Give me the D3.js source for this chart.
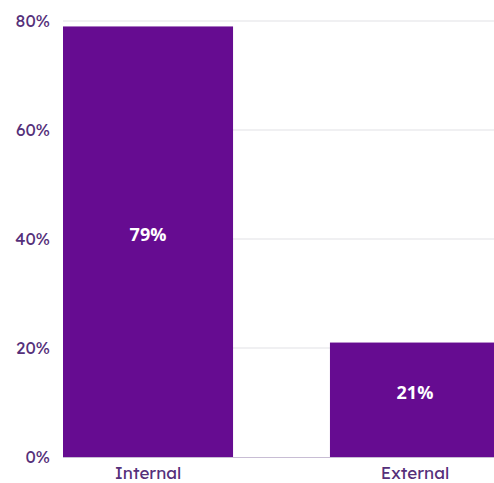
<!DOCTYPE html>
<html>
<head>
<meta charset="utf-8">
<script src="https://cdn.jsdelivr.net/npm/d3@7"></script>
<style>
  body { margin: 0; background: #fff; }
  text { font-family: "Lexend", "Open Sans", sans-serif; }
</style>
</head>
<body>
<div id="chart"></div>
<script>
// chart data
var categories = ["Internal", "External"];
var values = [79, 21];
var yTicks = [0, 20, 40, 60, 80];

var W = 494, H = 483;
var margin = {top: 21, right: 0, bottom: 26, left: 63};

var svg = d3.select("#chart")
  .append("svg")
    .attr("width", W)
    .attr("height", H);

var x = d3.scaleBand()
  .domain(categories)
  .range([margin.left, 500])
  .paddingInner(0.363)
  .paddingOuter(0);

var y = d3.scaleLinear()
  .domain([0, 80])
  .range([H - margin.bottom, margin.top]);

// gridlines
svg.append("g")
  .selectAll("line")
  .data(yTicks.slice(1))
  .enter()
  .append("line")
    .attr("x1", margin.left)
    .attr("x2", W)
    .attr("y1", d => y(d))
    .attr("y2", d => y(d))
    .attr("stroke", "#e1e1e5")
    .attr("stroke-width", 1);

// y tick labels
svg.append("g")
  .selectAll("text")
  .data(yTicks)
  .enter()
  .append("text")
    .attr("x", 50)
    .attr("y", d => y(d))
    .attr("dy", "0.36em")
    .attr("text-anchor", "end")
    .attr("fill", "#55307a")
    .style("font-size", "17px")
    .text(d => d + "%");

// bars
svg.append("g")
  .selectAll("rect")
  .data(values)
  .enter()
  .append("rect")
    .attr("x", (d, i) => x(categories[i]))
    .attr("y", d => y(d))
    .attr("width", x.bandwidth())
    .attr("height", d => y(0) - y(d))
    .attr("fill", "#660c91");

// baseline
svg.append("line")
  .attr("x1", margin.left)
  .attr("x2", W)
  .attr("y1", y(0) + 0.5)
  .attr("y2", y(0) + 0.5)
  .attr("stroke", "#c8bdd4")
  .attr("stroke-width", 1);

// value labels
svg.append("g")
  .selectAll("text")
  .data(values)
  .enter()
  .append("text")
    .attr("x", (d, i) => x(categories[i]) + x.bandwidth() / 2)
    .attr("y", d => (y(d) + y(0)) / 2)
    .attr("dy", "-0.05em")
    .attr("text-anchor", "middle")
    .attr("fill", "#ffffff")
    .style("font-family", "'Open Sans', sans-serif")
    .style("font-size", "18px")
    .style("font-weight", "bold")
    .text(d => d + "%");

// x labels
svg.append("g")
  .selectAll("text")
  .data(categories)
  .enter()
  .append("text")
    .attr("x", d => x(d) + x.bandwidth() / 2)
    .attr("y", 479)
    .attr("text-anchor", "middle")
    .attr("fill", "#55307a")
    .style("font-size", "17px")
    .text(d => d);
</script>
</body>
</html>
